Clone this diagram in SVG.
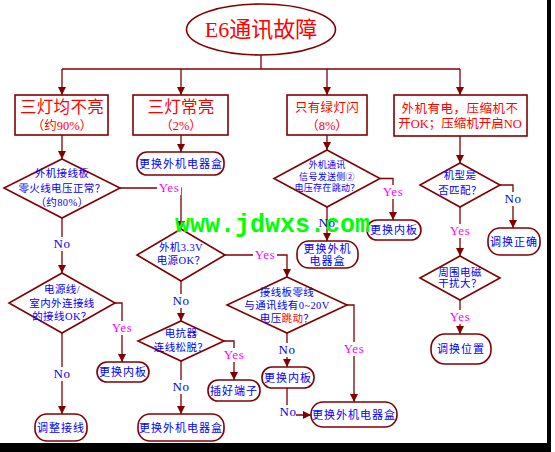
<svg xmlns="http://www.w3.org/2000/svg" width="555" height="452" viewBox="0 0 555 452">
<style>
.ln{fill:none;stroke:#800000;stroke-width:1.3}
.bx{fill:#fff;stroke:#800000;stroke-width:1.6}
.t{font-family:"Liberation Serif","Noto Sans CJK SC",sans-serif;fill:#0000ff;text-anchor:middle;font-size:11px;letter-spacing:1px}
.d{font-size:10.5px;letter-spacing:0.4px}
.s{font-size:9px;letter-spacing:0.3px}
.r{fill:#ff0000}
.lb{font-family:"Liberation Serif",serif;font-size:13px;text-anchor:middle;letter-spacing:0.5px}
.y{fill:#ff00ff}
.n{fill:#0000ff}
.bg{fill:#fff}
</style>
<defs>
<marker id="a" markerUnits="userSpaceOnUse" markerWidth="8" markerHeight="8" refX="8" refY="4" orient="auto">
<path d="M0,0 L8,4 L0,8 z" fill="#800000"/>
</marker>
</defs>
<rect width="555" height="452" fill="#fff"/>
<rect x="547" y="0" width="4" height="452" fill="#000"/>
<rect x="0" y="443" width="551" height="9" fill="#000"/>

<g id="connectors">
<path class="ln" d="M261,55 V69 M62,69 H460"/>
<path class="ln" marker-end="url(#a)" d="M62,69 V95"/>
<path class="ln" marker-end="url(#a)" d="M181,69 V95"/>
<path class="ln" marker-end="url(#a)" d="M327,69 V95"/>
<path class="ln" marker-end="url(#a)" d="M460,69 V95"/>
<path class="ln" marker-end="url(#a)" d="M62,135 V159"/>
<path class="ln" marker-end="url(#a)" d="M120,188 H181 V229"/>
<path class="ln" marker-end="url(#a)" d="M62,218 V273"/>
<path class="ln" marker-end="url(#a)" d="M115,303 H122 V362"/>
<path class="ln" marker-end="url(#a)" d="M62,333 V414"/>
<path class="ln" marker-end="url(#a)" d="M181,135 V152"/>
<path class="ln" marker-end="url(#a)" d="M225,255 H287 V277"/>
<path class="ln" marker-end="url(#a)" d="M181,281 V321"/>
<path class="ln" marker-end="url(#a)" d="M224,341 H234 V380"/>
<path class="ln" marker-end="url(#a)" d="M181,361 V414"/>
<path class="ln" marker-end="url(#a)" d="M347,305 H354 V402"/>
<path class="ln" marker-end="url(#a)" d="M287,333 V367"/>
<path class="ln" marker-end="url(#a)" d="M287,388 V415 H311"/>
<path class="ln" marker-end="url(#a)" d="M327,135 V150"/>
<path class="ln" marker-end="url(#a)" d="M380,178.5 H393 V220"/>
<path class="ln" marker-end="url(#a)" d="M327,207 V241"/>
<path class="ln" marker-end="url(#a)" d="M460,136 V163"/>
<path class="ln" marker-end="url(#a)" d="M500,185 H513 V228"/>
<path class="ln" marker-end="url(#a)" d="M460,207 V256"/>
<path class="ln" marker-end="url(#a)" d="M460,300 V334"/>
</g>

<g id="start">
<ellipse class="bx" cx="261" cy="29.5" rx="74.5" ry="25.5" stroke-width="1.2"/>
<text class="t r" x="261" y="37" style="font-size:22px;letter-spacing:0">E6通讯故障</text>
</g>

<g id="b1">
<rect class="bx" x="15" y="95" width="93" height="40"/>
<text class="t r" x="62" y="113" style="font-size:16.5px;letter-spacing:0.3px">三灯均不亮</text>
<text class="t r" x="62" y="130" style="font-size:12.5px;letter-spacing:0">（约90%）</text>
</g>
<g id="b2">
<rect class="bx" x="133" y="95" width="95" height="40"/>
<text class="t r" x="181" y="113" style="font-size:16.5px;letter-spacing:0.3px">三灯常亮</text>
<text class="t r" x="181" y="130" style="font-size:12.5px;letter-spacing:0">（2%）</text>
</g>
<g id="b3">
<rect class="bx" x="287" y="95" width="80" height="40"/>
<text class="t r" x="327" y="112" style="font-size:12.5px;letter-spacing:0.3px">只有绿灯闪</text>
<text class="t r" x="327" y="130" style="font-size:12.5px;letter-spacing:0">（8%）</text>
</g>
<g id="b4">
<rect class="bx" x="394" y="95" width="133" height="41"/>
<text class="t r" x="460" y="112.5" style="font-size:12.5px;letter-spacing:0.5px">外机有电，压缩机不</text>
<text class="t r" x="460" y="127.5" style="font-size:12.5px;letter-spacing:0">开OK；压缩机开启NO</text>
</g>

<g id="d1">
<polygon class="bx" points="62,159 120,188 62,218 4,188" stroke-width="1.2"/>
<text class="t d" x="62" y="177">外机接线板</text>
<text class="t d" x="62" y="192">零火线电压正常？</text>
<text class="t d" x="62" y="206">（约80%）</text>
</g>
<g id="d2">
<polygon class="bx" points="181,229 225,255 181,281 137,255" stroke-width="1.2"/>
<text class="t d" x="181" y="251">外机3.3V</text>
<text class="t d" x="181" y="264">电源OK？</text>
</g>
<g id="d3">
<polygon class="bx" points="287,277 347,305 287,333 227,305" stroke-width="1.2"/>
<text class="t d" x="287" y="296">接线板零线</text>
<text class="t d" x="287" y="309">与通讯线有0~20V</text>
<text class="t d" x="287" y="322">电压<tspan class="r">跳动</tspan>？</text>
</g>
<g id="d4">
<polygon class="bx" points="181,321 224,341 181,361 138,341" stroke-width="1.2"/>
<text class="t d" x="181" y="337">电抗器</text>
<text class="t d" x="181" y="351">连线松脱？</text>
</g>
<g id="d5">
<polygon class="bx" points="62,273 115,303 62,333 9,303" stroke-width="1.2"/>
<text class="t d" x="62" y="293">电源线/</text>
<text class="t d" x="62" y="307">室内外连接线</text>
<text class="t d" x="62" y="320">的接线OK？</text>
</g>
<g id="d6">
<polygon class="bx" points="327,150 380,178.5 327,207 274,178.5" stroke-width="1.2"/>
<text class="t s" x="327" y="168">外机通讯</text>
<text class="t s" x="327" y="179.5">信号发送侧②</text>
<text class="t s" x="327" y="191">电压存在跳动？</text>
</g>
<g id="d7">
<polygon class="bx" points="460,163 500,185 460,207 420,185" stroke-width="1.2"/>
<text class="t d" x="460" y="179">机型是</text>
<text class="t d" x="460" y="194">否匹配？</text>
</g>
<g id="d8">
<polygon class="bx" points="460,256 500,278 460,300 420,278" stroke-width="1.2"/>
<text class="t d" x="460" y="276">周围电磁</text>
<text class="t d" x="460" y="287">干扰大？</text>
</g>

<g id="r1"><rect class="bx" x="137" y="152" width="87" height="23" rx="10"/><text class="t" x="181" y="167.5">更换外机电器盒</text></g>
<g id="r2"><rect class="bx" x="97" y="362" width="52" height="20" rx="10"/><text class="t" x="123" y="376">更换内板</text></g>
<g id="r3"><rect class="bx" x="35" y="414" width="52" height="27" rx="12"/><text class="t" x="61" y="431.5">调整接线</text></g>
<g id="r4"><rect class="bx" x="208" y="380" width="52" height="21" rx="10"/><text class="t" x="234" y="394.5">插好端子</text></g>
<g id="r5"><rect class="bx" x="138" y="414" width="86" height="27" rx="12"/><text class="t" x="181" y="431.5">更换外机电器盒</text></g>
<g id="r6"><rect class="bx" x="262" y="367" width="52" height="21" rx="10"/><text class="t" x="288" y="381.5">更换内板</text></g>
<g id="r7"><rect class="bx" x="311" y="402" width="86" height="25" rx="12"/><text class="t" x="354" y="418.5">更换外机电器盒</text></g>
<g id="r8"><rect class="bx" x="367" y="220" width="54" height="20" rx="10"/><text class="t" x="394" y="234">更换内板</text></g>
<g id="r9"><rect class="bx" x="297" y="241" width="61" height="27" rx="12"/><text class="t" x="327.5" y="253">更换外机</text><text class="t" x="327.5" y="265">电器盒</text></g>
<g id="r10"><rect class="bx" x="488" y="228" width="52" height="27" rx="12"/><text class="t" x="514" y="245.5">调换正确</text></g>
<g id="r11"><rect class="bx" x="431" y="334" width="60" height="30" rx="14"/><text class="t" x="461" y="353">调换位置</text></g>

<text x="175" y="232" style="font-family:'Liberation Mono',monospace;font-size:25px;font-weight:bold;fill:#00ff00">www.jdwxs.com</text>

<g id="labels">
<rect class="bg" x="157" y="181" width="24" height="14"/><text class="lb y" x="169" y="192">Yes</text>
<rect class="bg" x="54" y="237" width="16" height="14"/><text class="lb n" x="62" y="248">No</text>
<rect class="bg" x="110" y="321" width="24" height="14"/><text class="lb y" x="122" y="332">Yes</text>
<rect class="bg" x="54" y="367" width="16" height="14"/><text class="lb n" x="62" y="378">No</text>
<rect class="bg" x="253" y="248" width="24" height="14"/><text class="lb y" x="265" y="259">Yes</text>
<rect class="bg" x="173" y="294" width="16" height="14"/><text class="lb n" x="181" y="305">No</text>
<rect class="bg" x="222" y="348" width="24" height="14"/><text class="lb y" x="234" y="359">Yes</text>
<rect class="bg" x="173" y="380" width="16" height="14"/><text class="lb n" x="181" y="391">No</text>
<rect class="bg" x="342" y="342" width="24" height="14"/><text class="lb y" x="354" y="353">Yes</text>
<rect class="bg" x="279" y="343" width="16" height="14"/><text class="lb n" x="287" y="354">No</text>
<rect class="bg" x="280" y="405" width="16" height="14"/><text class="lb n" x="288" y="416">No</text>
<rect class="bg" x="381" y="185" width="24" height="14"/><text class="lb y" x="393" y="196">Yes</text>
<text class="lb n" x="327" y="227">No</text>
<rect class="bg" x="505" y="192" width="16" height="14"/><text class="lb n" x="513" y="203">No</text>
<rect class="bg" x="448" y="224" width="24" height="14"/><text class="lb y" x="460" y="235">Yes</text>
<rect class="bg" x="448" y="310" width="24" height="14"/><text class="lb y" x="460" y="321">Yes</text>
</g>
</svg>
